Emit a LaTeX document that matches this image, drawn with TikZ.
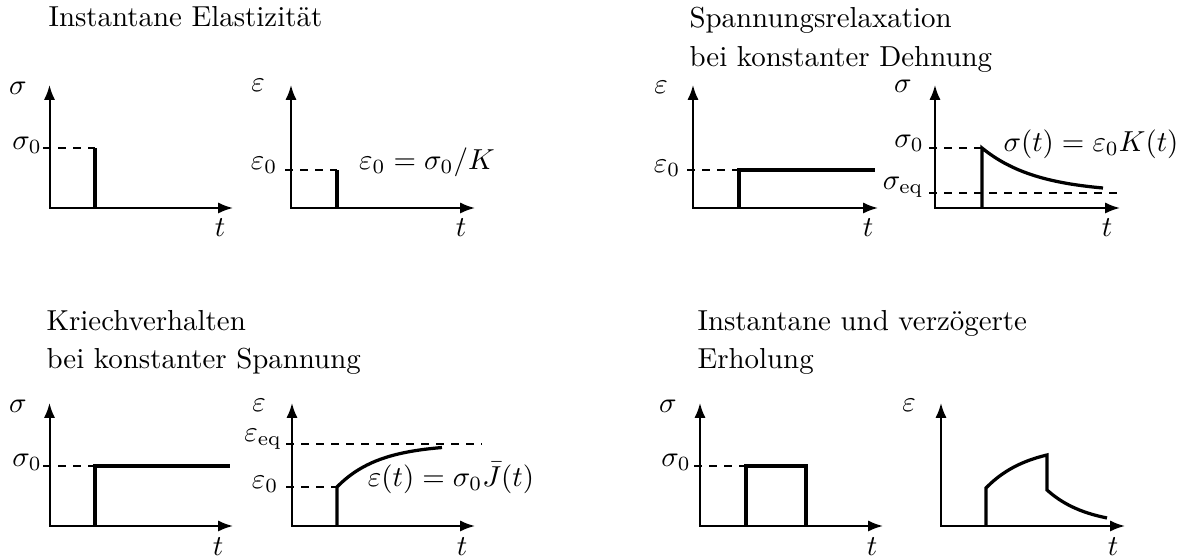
\documentclass[tikz,border=0pt]{standalone}
\usetikzlibrary{arrows.meta}
\begin{document}
\begin{tikzpicture}[x=0.4pt,y=-0.4pt,
 ax/.style={line width=0.8pt,{Latex[length=6pt,width=4.5pt]}-{Latex[length=6pt,width=4.5pt]}},
 crv/.style={line width=1.3pt},
 lvl/.style={dashed,line width=0.6pt},
 lbl/.style={inner sep=0pt,scale=1.156},
 ttl/.style={inner sep=0pt,anchor=base west,scale=1.156}]
\useasboundingbox (0,0) rectangle (1189,558);

% titles
\node[ttl] (t1) at (48,27) {Instantane Elastizität};
\node[ttl] (t2a) at (689,28) {Spannungsrelaxation};
\node[ttl] (t2b) at (689,67) {bei konstanter Dehnung};
\node[ttl] (t3a) at (46,331) {Kriechverhalten};
\node[ttl] (t3b) at (46,369) {bei konstanter Spannung};
\node[ttl] (t4a) at (697,331) {Instantane und verzögerte};
\node[ttl] (t4b) at (697,369) {Erholung};

% ---- plot 1
\draw[lvl] (43,148) -- (95,148);
\draw[ax] (49.5,85) |- (233,208);
\draw[crv] (95,208) -- (95,148);
\node[lbl] (p1y) at (18,88) {$\sigma$};
\node[lbl] (p1l) at (27,145) {$\sigma_0$};
\node[lbl] (p1t) at (220,228) {$t$};

% ---- plot 2
\draw[lvl] (285,170) -- (337,170);
\draw[ax] (291,85) |- (475,208);
\draw[crv] (337,208) -- (337,170);
\node[lbl] (p2y) at (258,85) {$\varepsilon$};
\node[lbl] (p2l) at (264,165) {$\varepsilon_0$};
\node[lbl] (p2f) at (427,162) {$\varepsilon_0=\sigma_0/K$};
\node[lbl] (p2t) at (461,228) {$t$};

% ---- plot 3
\draw[lvl] (687,170) -- (739,170);
\draw[ax] (693,85) |- (878,208);
\draw[crv] (739,208) -- (739,170) -- (875,170);
\node[lbl] (p3y) at (661,87) {$\varepsilon$};
\node[lbl] (p3l) at (667,168) {$\varepsilon_0$};
\node[lbl] (p3t) at (868,228) {$t$};

% ---- plot 4
\draw[lvl] (929,148) -- (982,148);
\draw[lvl] (929,193) -- (1123,193);
\draw[ax] (935,85) |- (1120,208);
\draw[crv] (982,208) -- (982,148) -- plot[domain=982:1103,samples=40,smooth] (\x,{193-45*exp(-(\x-982)/55)});
\node[lbl] (p4y) at (903,86) {$\sigma$};
\node[lbl] (p4l) at (909,143) {$\sigma_0$};
\node[lbl] (p4e) at (903,187) {$\sigma_{\mathrm{eq}}$};
\node[lbl] (p4f) at (1091,144) {$\sigma(t)=\varepsilon_0K(t)$};
\node[lbl] (p4t) at (1107,228) {$t$};

% ---- plot 5
\draw[lvl] (43,466) -- (95,466);
\draw[ax] (49.5,403) |- (233,526);
\draw[crv] (95,526) -- (95,466) -- (230,466);
\node[lbl] (p5y) at (18,406) {$\sigma$};
\node[lbl] (p5l) at (27,462) {$\sigma_0$};
\node[lbl] (p5t) at (218,547) {$t$};

% ---- plot 6
\draw[lvl] (286,444) -- (482,444);
\draw[lvl] (286,487) -- (337,487);
\draw[ax] (292,403) |- (475,526);
\draw[crv] (337,526) -- (337,487) -- plot[domain=337:442,samples=40,smooth] (\x,{444+43*exp(-(\x-337)/42)});
\node[lbl] (p6y) at (259,405) {$\varepsilon$};
\node[lbl] (p6e) at (263,439) {$\varepsilon_{\mathrm{eq}}$};
\node[lbl] (p6l) at (265,484) {$\varepsilon_0$};
\node[lbl] (p6f) at (451,478) {$\varepsilon(t)=\sigma_0\bar{J}(t)$};
\node[lbl] (p6t) at (462,547) {$t$};

% ---- plot 7
\draw[lvl] (694,466) -- (746,466);
\draw[ax] (700,403) |- (883,526);
\draw[crv] (746,526) -- (746,466) -- (806,466) -- (806,526);
\node[lbl] (p7y) at (668,406) {$\sigma$};
\node[lbl] (p7l) at (676,462) {$\sigma_0$};
\node[lbl] (p7t) at (872,547) {$t$};

% ---- plot 8
\draw[ax] (941,403) |- (1125,526);
\draw[crv] (986,526) -- (986,488) -- plot[domain=986:1047,samples=30,smooth] (\x,{445+43*exp(-(\x-986)/41.8)}) -- (1047,490) -- plot[domain=1047:1107,samples=30,smooth] (\x,{526-36*exp(-(\x-1047)/40)});
\node[lbl] (p8y) at (909,405) {$\varepsilon$};
\node[lbl] (p8t) at (1113,547) {$t$};
\end{tikzpicture}
\end{document}
